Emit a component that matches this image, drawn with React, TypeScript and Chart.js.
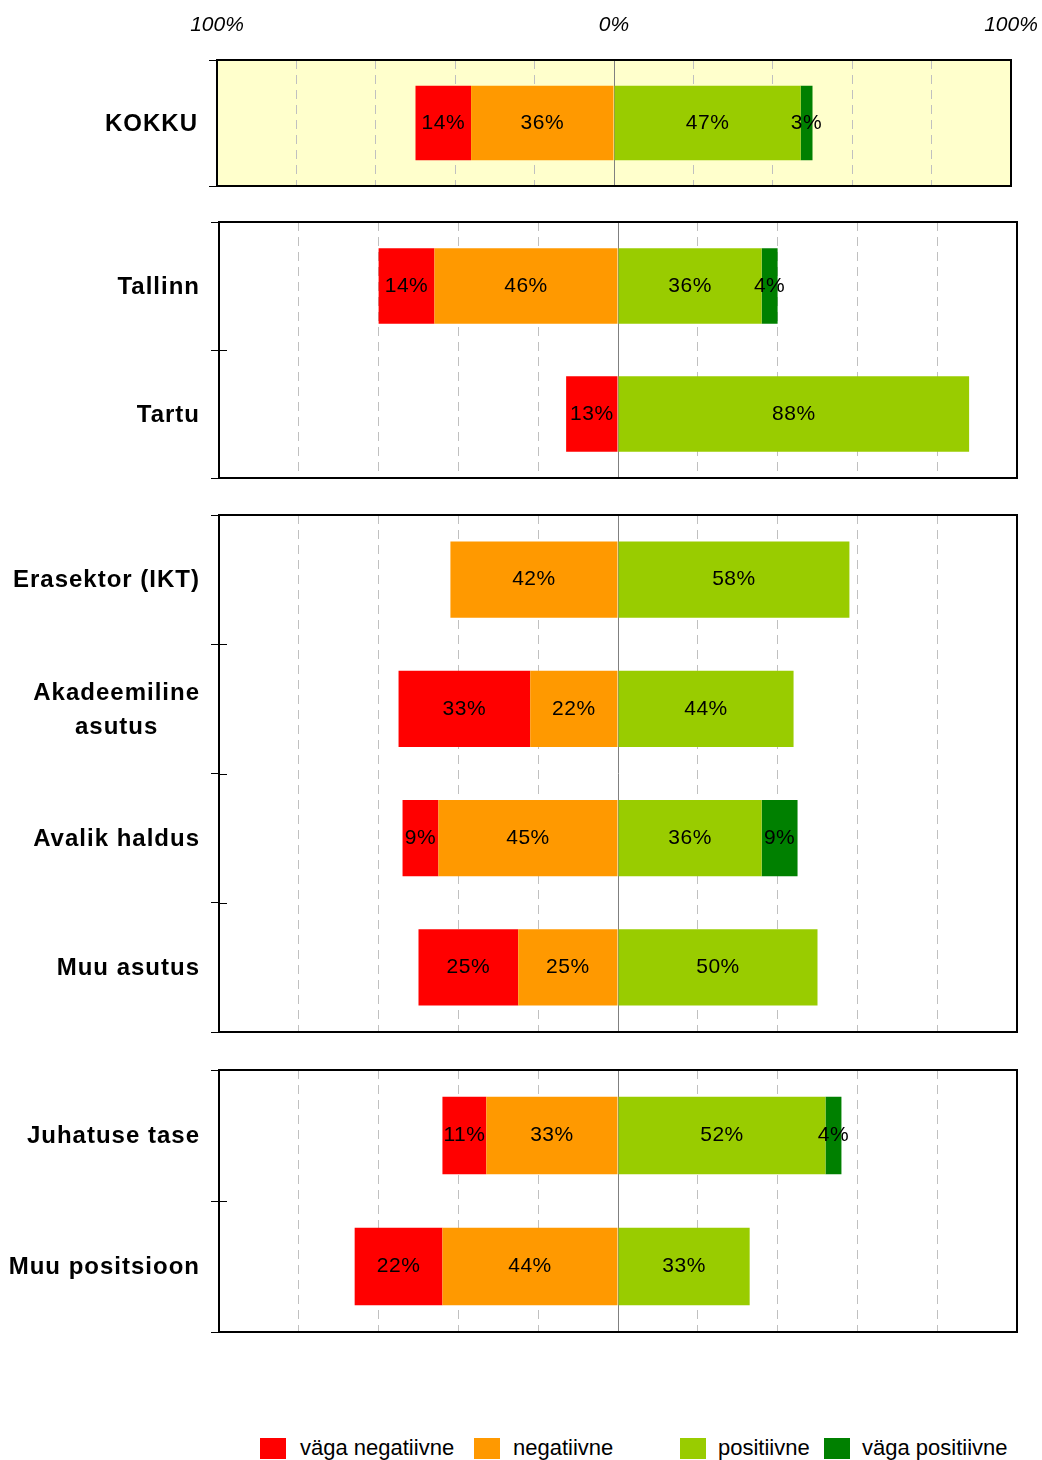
import React, { useEffect, useRef } from "react";
import { Chart, registerables } from "chart.js";

Chart.register(...registerables);

// ---------------- DATA ----------------
const categories: (string | string[])[] = [
  "KOKKU",
  "Tallinn",
  "Tartu",
  "Erasektor (IKT)",
  ["Akadeemiline", "asutus"],
  "Avalik haldus",
  "Muu asutus",
  "Juhatuse tase",
  "Muu positsioon",
];
const vagaNegatiivne = [14, 14, 13, 0, 33, 9, 25, 11, 22];
const negatiivne = [36, 46, 0, 42, 22, 45, 25, 33, 44];
const positiivne = [47, 36, 88, 58, 44, 36, 50, 52, 33];
const vagaPositiivne = [3, 4, 0, 0, 0, 9, 0, 4, 0];
const seriesNames = ["väga negatiivne", "negatiivne", "positiivne", "väga positiivne"];
const seriesColors = ["#FF0000", "#FF9900", "#99CC00", "#008000"];
// category index ranges [start, end) of each framed panel
const panelGroups = [
  [0, 1],
  [1, 3],
  [3, 7],
  [7, 9],
];
const axisTickValues = [-100, 0, 100];
const gridStep = 20;

// ---------------- LAYOUT ----------------
const FONT = '"Liberation Sans", Arial, Helvetica, sans-serif';
const PAD = 12;
const panelLayouts = [
  { left: 217, right: 1011, top: 60, bottom: 186, bg: "#FFFFCC", topAxis: true },
  { left: 219, right: 1017, top: 222, bottom: 478, bg: "", topAxis: false },
  { left: 219, right: 1017, top: 515, bottom: 1032, bg: "", topAxis: false },
  { left: 219, right: 1017, top: 1070, bottom: 1332, bg: "", topAxis: false },
];
const legendLayout = [
  { box: 260, text: 300 },
  { box: 474, text: 513 },
  { box: 680, text: 718 },
  { box: 824, text: 862 },
];

function Panel({ index }: { index: number }) {
  const ref = useRef<HTMLCanvasElement>(null);
  const L = panelLayouts[index];
  const canvasTop = L.topAxis ? 0 : L.top - PAD;
  const canvasHeight = L.bottom + PAD - canvasTop;

  useEffect(() => {
    if (!ref.current) return;
    const [s, e] = panelGroups[index];
    const labels = categories.slice(s, e);
    const neg = (arr: number[]) => arr.slice(s, e).map((v) => (v ? -v : null));
    const pos = (arr: number[]) => arr.slice(s, e).map((v) => (v ? v : null));
    const datasets = [
      { label: seriesNames[1], data: neg(negatiivne), backgroundColor: seriesColors[1] },
      { label: seriesNames[0], data: neg(vagaNegatiivne), backgroundColor: seriesColors[0] },
      { label: seriesNames[2], data: pos(positiivne), backgroundColor: seriesColors[2] },
      { label: seriesNames[3], data: pos(vagaPositiivne), backgroundColor: seriesColors[3] },
    ].map((d) => ({ ...d, borderWidth: 0, categoryPercentage: 1, barPercentage: 0.59 }));

    const decor = {
      id: "decor" + index,
      beforeDraw(chart: any) {
        if (!L.bg) return;
        const { ctx, chartArea: a } = chart;
        ctx.save();
        ctx.fillStyle = L.bg;
        ctx.fillRect(a.left, a.top, a.right - a.left, a.bottom - a.top);
        ctx.restore();
      },
      afterDatasetsDraw(chart: any) {
        const { ctx } = chart;
        ctx.save();
        ctx.fillStyle = "#000";
        ctx.font = `21px ${FONT}`;
        (ctx as any).letterSpacing = "0.5px";
        ctx.textAlign = "center";
        ctx.textBaseline = "middle";
        chart.data.datasets.forEach((ds: any, di: number) => {
          const meta = chart.getDatasetMeta(di);
          meta.data.forEach((el: any, j: number) => {
            const v = ds.data[j];
            if (v === null || v === undefined || v === 0) return;
            const cx = (el.x + el.base) / 2;
            ctx.fillText(Math.abs(v) + "%", cx, el.y);
          });
        });
        ctx.restore();
      },
      afterDraw(chart: any) {
        const { ctx, chartArea: a } = chart;
        const ys = chart.scales.y;
        const xs = chart.scales.x;
        ctx.save();
        // frame
        ctx.strokeStyle = "#000";
        ctx.lineWidth = 2;
        ctx.strokeRect(a.left, a.top, a.right - a.left, a.bottom - a.top);
        // inner halves of the category tick marks
        ctx.lineWidth = 1;
        ctx.beginPath();
        for (let k = 0; k <= labels.length; k++) {
          const y = Math.round(ys.getPixelForValue(k - 0.5)) + 0.5;
          ctx.moveTo(a.left, y);
          ctx.lineTo(a.left + 8, y);
        }
        ctx.stroke();
        // top percentage labels
        if (L.topAxis) {
          ctx.fillStyle = "#000";
          ctx.font = `italic 21px ${FONT}`;
          ctx.textAlign = "center";
          ctx.textBaseline = "middle";
          axisTickValues.forEach((v) => {
            ctx.fillText(Math.abs(v) + "%", xs.getPixelForValue(v), 25);
          });
        }
        // category labels
        ctx.fillStyle = "#000";
        ctx.font = `bold 24px ${FONT}`;
        (ctx as any).letterSpacing = "1px";
        ctx.textBaseline = "middle";
        const rightX = a.left - 19;
        labels.forEach((lab, i) => {
          const y = ys.getPixelForValue(i) + 1;
          if (Array.isArray(lab)) {
            const widest = Math.max(...lab.map((t) => ctx.measureText(t).width));
            const cx = rightX - widest / 2;
            const lh = 34;
            ctx.textAlign = "center";
            lab.forEach((t, k) => {
              ctx.fillText(t, cx, y + (k - (lab.length - 1) / 2) * lh);
            });
          } else {
            ctx.textAlign = "right";
            ctx.fillText(lab, rightX, y);
          }
        });
        ctx.restore();
      },
    };

    const scales: any = {
      x: {
        type: "linear",
        position: "bottom",
        min: -100,
        max: 100,
        stacked: true,
        ticks: { display: false, stepSize: gridStep },
        grid: {
          drawTicks: false,
          lineWidth: 1,
          color: (c: any) => {
            const v = c.tick ? c.tick.value : 0;
            return v === 0 || Math.abs(v) === 100 ? "rgba(0,0,0,0)" : "#C0C0C0";
          },
        },
        border: { display: false, dash: [9, 6] },
        afterFit: (sc: any) => {
          sc.height = 0;
        },
      },
      x0: {
        type: "linear",
        axis: "x",
        position: "bottom",
        min: -100,
        max: 100,
        ticks: { display: false },
        afterBuildTicks: (sc: any) => {
          sc.ticks = [{ value: 0 }];
        },
        grid: { drawTicks: false, lineWidth: 1, color: "#808080" },
        border: { display: false },
        afterFit: (sc: any) => {
          sc.height = 0;
        },
      },
      y: {
        type: "category",
        stacked: true,
        offset: true,
        ticks: { display: false },
        grid: {
          offset: true,
          drawOnChartArea: false,
          drawTicks: true,
          tickLength: 8,
          tickColor: "#000",
          tickWidth: 1,
        },
        border: { display: false },
        afterFit: (sc: any) => {
          sc.width = L.left;
        },
      },
    };

    const chart = new Chart(ref.current, {
      type: "bar",
      data: { labels: labels as any, datasets: datasets as any },
      options: {
        indexAxis: "y",
        responsive: false,
        animation: false,
        devicePixelRatio: 1,
        layout: {
          padding: { left: 0, right: 1042 - L.right, top: L.topAxis ? L.top : PAD, bottom: PAD },
        },
        plugins: { legend: { display: false }, tooltip: { enabled: false } },
        scales,
      } as any,
      plugins: [decor],
    });
    return () => chart.destroy();
  }, [index]);

  return (
    <canvas
      ref={ref}
      width={1042}
      height={canvasHeight}
      style={{ position: "absolute", left: 0, top: canvasTop, width: 1042, height: canvasHeight, display: "block" }}
    />
  );
}

export default function App() {
  const legendOrder = [0, 1, 2, 3];
  return (
    <div style={{ position: "absolute", left: 0, top: 0, width: 1042, height: 1460, background: "#fff", overflow: "hidden" }}>
      {panelLayouts.map((_, i) => (
        <Panel key={i} index={i} />
      ))}
      {legendOrder.map((si, k) => (
        <React.Fragment key={si}>
          <div
            style={{
              position: "absolute",
              left: legendLayout[k].box,
              top: 1438,
              width: 26,
              height: 21,
              background: seriesColors[si],
            }}
          />
          <div
            style={{
              position: "absolute",
              left: legendLayout[k].text,
              top: 1434,
              height: 28,
              lineHeight: "28px",
              fontFamily: FONT,
              fontSize: 22,
              color: "#000",
              whiteSpace: "nowrap",
            }}
          >
            {seriesNames[si]}
          </div>
        </React.Fragment>
      ))}
    </div>
  );
}
